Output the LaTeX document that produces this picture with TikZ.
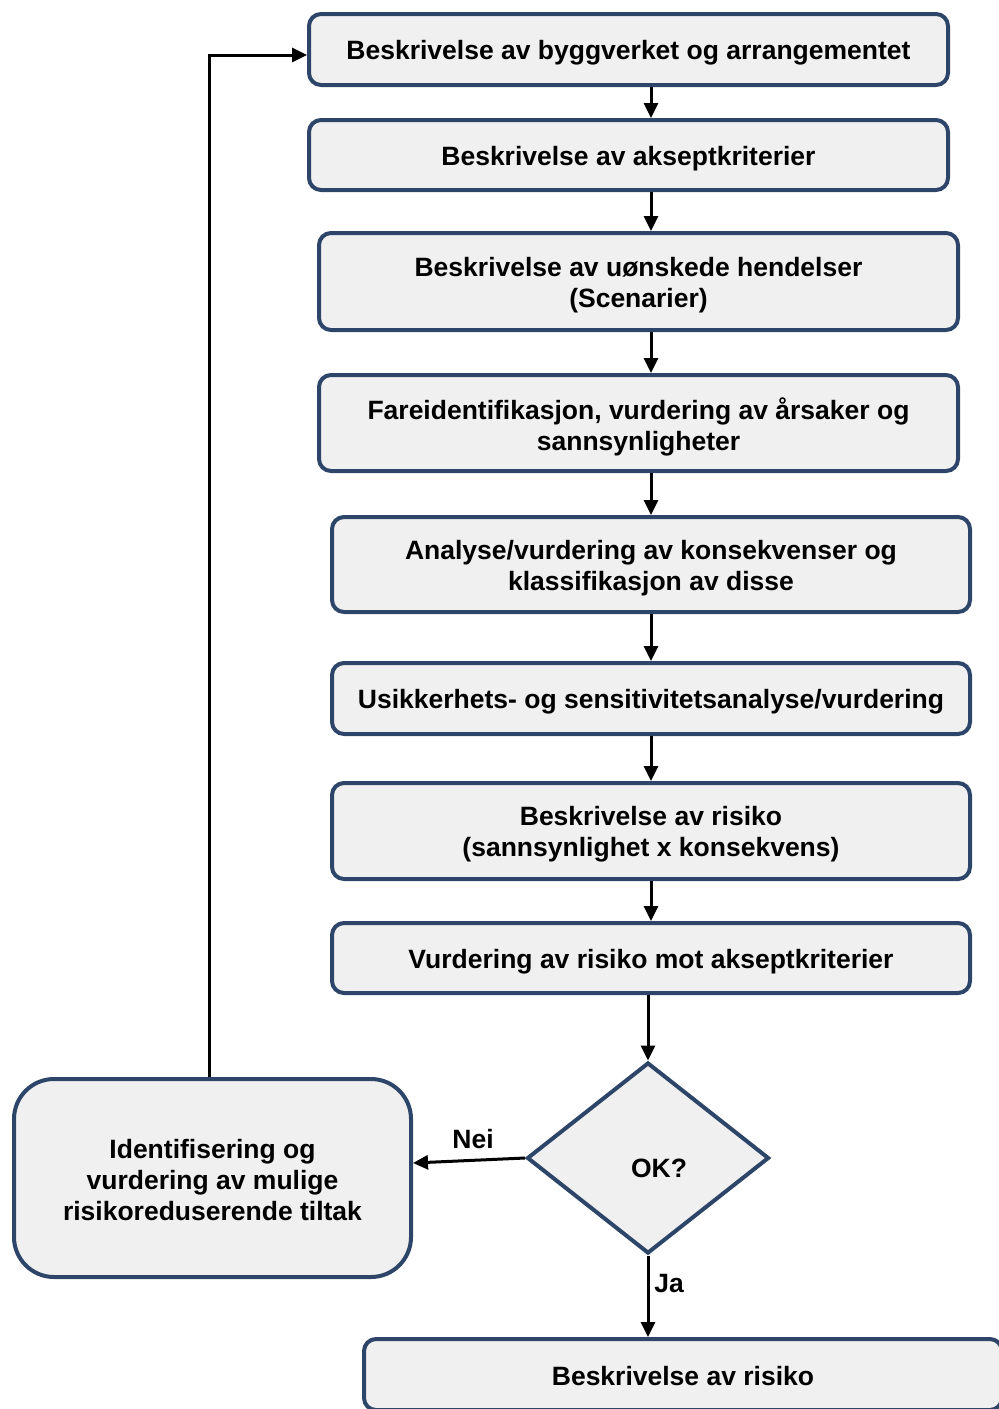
\documentclass[tikz,border=0pt]{standalone}
\usepackage{fontspec}
\setmainfont{Liberation Sans}
\usetikzlibrary{arrows.meta,shapes.geometric,calc}
\definecolor{frame}{HTML}{2C4569}
\definecolor{boxfill}{HTML}{F0F0F0}
\tikzset{
  tag/.style={font=\fontsize{26.5}{31}\selectfont\bfseries, inner sep=0pt, align=center},
  stepbox/.style={draw=frame, fill=boxfill, line width=4pt, rounded corners=12pt, inner sep=0pt},
  bigbox/.style={stepbox, rounded corners=40pt},
  caption/.style={label={[tag, yshift=-3.5pt]center:{#1}}},
  decision/.style={diamond, draw=frame, fill=boxfill, line width=4pt, inner sep=0pt},
  flow/.style={line width=3pt, -{Triangle[length=15pt,width=14pt]}}
}
\begin{document}
\begin{tikzpicture}[x=1pt,y=-1pt]
\useasboundingbox (0,0) rectangle (999,1409);
% process steps (centre, size measured on the border line)
\node[stepbox, minimum width=639, minimum height=71, caption={Beskrivelse av byggverket og arrangementet}] (b1) at (628.5,49.5) {};
\node[stepbox, minimum width=639, minimum height=70, caption={Beskrivelse av akseptkriterier}] (b2) at (628.5,155) {};
\node[stepbox, minimum width=639, minimum height=97, caption={Beskrivelse av uønskede hendelser\\(Scenarier)}] (b3) at (638.5,281.5) {};
\node[stepbox, minimum width=639, minimum height=96, caption={Fareidentifikasjon, vurdering av årsaker og\\sannsynligheter}] (b4) at (638.5,423) {};
\node[stepbox, minimum width=638, minimum height=95, caption={Analyse/vurdering av konsekvenser og\\klassifikasjon av disse}] (b5) at (651,564.5) {};
\node[stepbox, minimum width=638, minimum height=71, caption={Usikkerhets- og sensitivitetsanalyse/vurdering}] (b6) at (651,698.5) {};
\node[stepbox, minimum width=638, minimum height=96, caption={Beskrivelse av risiko\\(sannsynlighet x konsekvens)}] (b7) at (651,831) {};
\node[stepbox, minimum width=638, minimum height=70, caption={Vurdering av risiko mot akseptkriterier}] (b8) at (651,958) {};
% decision
\node[decision, minimum width=242, minimum height=191] (ok) at (648,1158) {};
\node[tag] (oktext) at (659,1168) {OK?};
% measures box and final step
\node[bigbox, minimum width=397, minimum height=198] (lb) at (212.5,1178) {};
\node[tag] (lbtext) at (212.5,1180) {Identifisering og\\vurdering av mulige\\risikoreduserende tiltak};
\node[stepbox, minimum width=638, minimum height=71] (bend) at (683,1374.5) {};
\node[tag] (bendtext) at (683,1376.5) {Beskrivelse av risiko};
% main spine
\coordinate (spine) at (651,0);
\foreach \a/\b in {b1/b2,b2/b3,b3/b4,b4/b5,b5/b6,b6/b7,b7/b8}
  \draw[flow] (\a.south -| spine) -- (\b.north -| spine);
\draw[flow] (b8.south -| ok.north) -- (ok.north);
\draw[flow] (ok.south) -- (bend.north -| ok.south);
\draw[flow] (ok.west) -- ([yshift=15pt]lb.east);
% feedback loop
\coordinate (loop) at (209,0);
\draw[flow] (lb.north -| loop) -- ([yshift=-5.5pt]b1.west -| loop) -- ([yshift=-5.5pt]b1.west);
% branch labels
\node[tag] (nei) at (473,1139) {Nei};
\node[tag] (ja) at (669,1283) {Ja};
\end{tikzpicture}
\end{document}
